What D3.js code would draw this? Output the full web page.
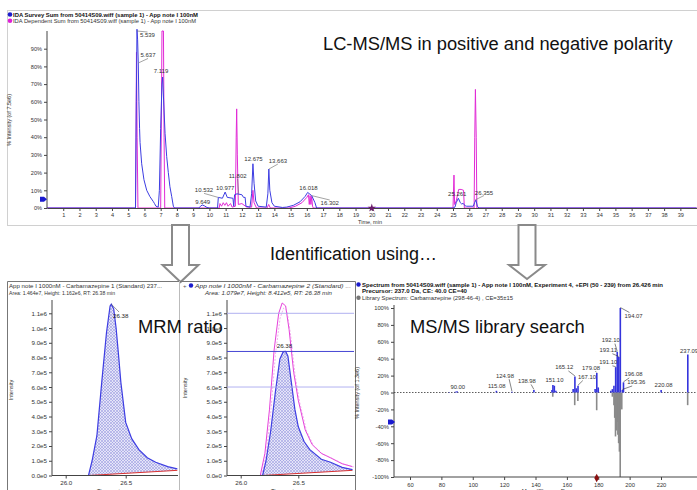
<!DOCTYPE html>
<html>
<head>
<meta charset="utf-8">
<script src="https://cdn.jsdelivr.net/npm/d3@7"></script>
<style>
body { margin:0; background:#fff; }
svg { display:block; font-family:"Liberation Sans", Arial, sans-serif; }
</style>
</head>
<body>
<svg width="697" height="490"></svg>
<script>
// ---------- data ----------
// top chromatogram, [time (min), % intensity]
var surveySum = [[0,0],[5.45,0],[5.50,60],[5.54,101],[5.58,95],[5.62,82],[5.66,60],[5.70,45],[5.73,37],[5.83,25],[5.97,16],[6.14,10],
  [6.34,6.4],[6.55,3.6],[6.62,2.5],[6.71,1],[6.85,0.5],[6.92,10],[7.00,45],[7.08,70],[7.12,74],[7.18,61],[7.27,42],[7.37,29],
  [7.47,20],[7.57,12],[7.68,6.4],[7.78,1],[7.85,0],[9.35,0],[9.45,1],[9.56,1.7],[9.70,1.2],[9.85,0.3],[10.0,0],[10.50,0],
  [10.55,6],[10.8,5.5],[10.97,9],[11.1,6],[11.45,5.5],[11.5,1],[11.55,7.5],[11.7,8],[12.0,7.5],[12.1,6],[12.2,6],[12.25,1],
  [12.5,0.5],[12.6,8],[12.68,25],[12.75,14],[12.85,4],[13.0,1],[13.5,0.5],[13.6,8],[13.66,22],[13.72,10],[13.85,3],[14.0,1],
  [14.5,0.3],[14.76,0.5],[15.17,1.5],[15.58,3.5],[15.89,6.5],[16.05,8.8],[16.3,7],[16.5,3],[16.6,0],[25.0,0],[25.12,0.5],
  [25.2,3],[25.33,5.5],[25.45,3],[25.53,2.3],[25.63,2.6],[25.75,1.2],[25.84,1],[26.25,1],[26.33,3],[26.41,4.5],[26.5,1],
  [26.6,0],[40,0]];
var dependentSum = [[0,0],[5.45,0],[5.48,40],[5.51,88],[5.55,40],[5.6,0],[7.0,0],[7.05,60],[7.08,100],[7.17,100],[7.21,40],
  [7.25,0],[10.6,0],[10.65,2.5],[10.75,1],[10.85,3],[10.95,1.5],[11.05,3],[11.15,1],[11.3,2.5],[11.4,0.5],[11.6,1],[11.65,40],
  [11.68,56],[11.72,30],[11.78,2],[12.0,2.5],[12.3,0.5],[12.6,0.5],[12.68,10],[12.75,3],[12.9,0],[13.55,0],[13.65,2],[13.75,0],
  [14.9,0],[15.3,1],[15.7,3],[16.0,6],[16.1,7.5],[16.15,2],[16.2,7],[16.25,2],[16.3,6.5],[16.35,1],[16.4,0],[25.0,0],
  [25.06,18.6],[25.1,2],[25.2,4],[25.35,10.5],[25.5,10.5],[25.65,10],[25.7,0],[26.3,0],[26.34,40],[26.38,67],[26.43,40],
  [26.47,0],[40,0]];
var topPeakTimes   = [5.539, 5.637, 7.119, 9.649, 10.532, 10.977, 11.802, 12.675, 13.663, 16.018, 16.302, 25.261, 26.355];
var topPeakHeights = [100, 82, 74, 1.7, 6, 9, 8, 25, 22, 8.8, 7, 5.5, 4.5];
var topXTicks = d3.range(1, 40);
var topYTicks = [0, 10, 20, 30, 40, 50, 60, 70, 80, 90];

// MRM peaks, [time (min), intensity]
var mrm1 = [[25.88,0],[26.19,0],[26.22,1.0e5],[26.26,2.7e5],[26.30,6.3e5],[26.34,9.7e5],[26.37,11.5e5],[26.38,11.62e5],
  [26.40,11.3e5],[26.42,10.0e5],[26.44,8.2e5],[26.46,6.3e5],[26.50,3.6e5],[26.55,2.5e5],[26.61,1.75e5],[26.68,1.2e5],
  [26.75,0.9e5],[26.85,0.6e5],[26.93,0.45e5]];
var mrm2 = [[25.88,0],[26.19,0],[26.22,1.0e5],[26.26,3.0e5],[26.30,5.6e5],[26.34,7.9e5],[26.37,8.4e5],[26.39,8.41e5],
  [26.41,8.1e5],[26.44,6.3e5],[26.47,4.5e5],[26.50,3.3e5],[26.55,2.3e5],[26.60,1.75e5],[26.70,1.1e5],[26.78,0.9e5],
  [26.88,0.55e5],[26.97,0.4e5]];
var mrm2Overlay = [[26.17,0],[26.21,1.5e5],[26.25,4.5e5],[26.29,8.5e5],[26.33,11.0e5],[26.36,11.7e5],[26.39,11.5e5],
  [26.42,9.9e5],[26.46,7.0e5],[26.50,5.1e5],[26.56,3.1e5],[26.62,2.1e5],[26.70,1.5e5],[26.78,1.2e5],[26.88,0.8e5],[26.97,0.6e5]];
var mrm1Baseline = [[26.19,0],[26.93,0.35e5]];
var mrm2Baseline = [[26.19,0],[26.97,0.35e5]];
var mrm2RatioLines = [1.1e6, 8.412e5, 6.0e5];
var mrmYTicks = d3.range(0, 1.15e6, 1e5);
var mrmXTicks = [26.0, 26.5];

// MS/MS spectrum, [m/z, %]
var spectrum = [[85,0.5],[89,1],[90.0,1.5],[115.08,2],[124.98,1],[138.98,3],[150.5,3],[151.10,9],[152,8],[153,2],[164,4],
  [165.12,19],[166,5],[167.10,8],[178,4],[179.08,23],[180,6],[188,2],[189,4],[190,8],[191.10,30],[192.10,48],[193.11,42],
  [194.07,100],[195.36,3],[196.08,12],[220.08,3],[237.09,45]];
var library = [[151,-5],[165,-15],[167,-10],[179,-21],[189,-5],[190,-15],[190.5,-30],[191,-52],[191.5,-45],[192,-35],
  [192.5,-50],[193,-60],[193.5,-70],[194,-100],[195,-20],[237,-15]];
var msLabels = ["90.00","115.08","124.98","138.98","151.10","165.12","167.10","179.08","191.10","192.10","193.11","194.07","196.08","195.36","220.08","237.09"];
var msXTicks = [60, 80, 100, 120, 140, 160, 180, 200, 220];
var msYTicks = [-100, -80, -60, -40, -20, 0, 20, 40, 60, 80, 100];

// label placement (pixel offsets from the peak top)
var topLabelOffsets = [[10.5,6],[9.5,-5.4],[-1.6,-4.5],[-1,-1],[-14,-5],[0,-2.5],[-1,-16],[0.7,-2.3],[9,-6],[1.4,-2],[18,9.4],[0,-2],[9,-5.5]];
var msLabelOffsets = [[0.7,-2],[0.3,-3],[-7,-14],[-7,-7],[1.5,-2.4],[-10.7,-7],[9,-6.7],[-5.7,-3.5],[-7.4,-2.8],[-6.5,-9.8],[-10.6,-4.8],[13.3,9.5],[10,-6],[14,-5.5],[2.5,-2.7],[1.3,-1.8]];

var BLUE = "#3d3de2", MAGENTA = "#e22ad6", TXT = "#333";

var svg = d3.select("svg");
var defs = svg.append("defs");

var hatch = defs.append("pattern").attr("id", "hatch").attr("width", 3).attr("height", 3)
  .attr("patternUnits", "userSpaceOnUse");
hatch.append("rect").attr("width", 3).attr("height", 3).attr("fill", "#e4e4f8");
hatch.append("path").attr("d", "M0,0L3,3M3,0L0,3").attr("stroke", "#8f8fdc").attr("stroke-width", 0.5);

function clip(id, x, y, w, h)
{
  defs.append("clipPath").attr("id", id).append("rect")
    .attr("x", x).attr("y", y).attr("width", w).attr("height", h);
}

function styleAxis(g, size)
{
  g.selectAll("text").style("font-size", size + "px").attr("fill", TXT);
  g.selectAll("line").attr("stroke", "#444");
  g.select(".domain").attr("stroke", "#444");
}

function text(x, y, s, size, opts)
{
  opts = opts || {};
  var t = svg.append("text").attr("x", x).attr("y", y).text(s)
    .style("font-size", size + "px").attr("fill", opts.fill || TXT);
  if (opts.anchor) t.attr("text-anchor", opts.anchor);
  if (opts.bold) t.style("font-weight", "bold");
  if (opts.italic) t.style("font-style", "italic");
  if (opts.len) t.attr("textLength", opts.len).attr("lengthAdjust", "spacingAndGlyphs");
  if (opts.rotate) t.attr("transform", "rotate(-90," + x + "," + y + ")");
  return t;
}

// ================= top panel =================
svg.append("rect").attr("x", 7.5).attr("y", 10.5).attr("width", 700).attr("height", 215)
  .attr("fill", "none").attr("stroke", "#d0d0d0");

var xTop = d3.scaleLinear().domain([0, 40]).range([47, 696.6]);
var yTop = d3.scaleLinear().domain([0, 100]).range([208, 31]);
clip("clipTop", 47, 20, 650, 189);

var topLine = d3.line().x(function(d) { return xTop(d[0]); }).y(function(d) { return yTop(d[1]); });

svg.append("path").datum(dependentSum).attr("d", topLine).attr("fill", "none")
  .attr("stroke", MAGENTA).attr("stroke-width", 1).attr("clip-path", "url(#clipTop)");
svg.append("path").datum(surveySum).attr("d", topLine).attr("fill", "none")
  .attr("stroke", BLUE).attr("stroke-width", 1).attr("clip-path", "url(#clipTop)");

var gx = svg.append("g").attr("transform", "translate(0,208)")
  .call(d3.axisBottom(xTop).tickValues(topXTicks).tickSize(3).tickSizeOuter(0).tickPadding(2).tickFormat(d3.format("d")));
styleAxis(gx, 5.6);
var gy = svg.append("g").attr("transform", "translate(47,0)")
  .call(d3.axisLeft(yTop).tickValues(topYTicks).tickSize(3).tickSizeOuter(0).tickPadding(2).tickFormat(function(d) { return d + "%"; }));
styleAxis(gy, 5.6);
gy.select(".domain").attr("d", "M0," + yTop(0) + "V" + yTop(100));

// peak labels
topPeakTimes.forEach(function(t, i)
{
  var px = xTop(t), py = yTop(topPeakHeights[i]);
  var lx = px + topLabelOffsets[i][0], ly = py + topLabelOffsets[i][1];
  if (Math.abs(topLabelOffsets[i][0]) > 6 || topLabelOffsets[i][1] < -5)
    svg.append("line").attr("x1", px).attr("y1", py).attr("x2", lx).attr("y2", ly + (ly < py ? 1 : -5))
      .attr("stroke", "#666").attr("stroke-width", 0.6);
  text(lx, ly, d3.format(".3f")(t), 6, {anchor: "middle"});
});

text(11, 120, "% Intensity (of 7.5e6)", 5.5, {anchor: "middle", rotate: true});
text(370, 223.5, "Time, min", 5.5, {anchor: "middle"});

// legend
svg.append("circle").attr("cx", 10).attr("cy", 14.5).attr("r", 2.3).attr("fill", "#1c1ccc");
text(13, 16.6, "IDA Survey Sum from 50414S09.wiff (sample 1) - App note I 100nM", 5.5, {bold: true, len: 185, fill: "#111"});
svg.append("circle").attr("cx", 10).attr("cy", 20.8).attr("r", 2.3).attr("fill", "#e020d8");
text(13, 22.8, "IDA Dependent Sum from 50414S09.wiff (sample 1) - App note I 100nM", 5.5, {len: 183, fill: "#333"});

// markers on the axes
svg.append("path").attr("d", d3.symbol(d3.symbolStar, 22)()).attr("fill", "#6a1a6a")
  .attr("transform", "translate(" + xTop(20) + ",208)");
svg.append("path").attr("d", "M-3,-2.5L1,-2.5L4,0L1,2.5L-3,2.5Z").attr("fill", "#1a1ad0")
  .attr("transform", "translate(43," + yTop(5) + ")");

text(323, 50, "LC-MS/MS in positive and negative polarity", 18.3, {fill: "#111"});

// ================= arrows + caption =================
function arrow(cx, tip)
{
  var p = d3.path();
  p.moveTo(cx - 8.5, 225); p.lineTo(cx + 8.5, 225); p.lineTo(cx + 8.5, 265); p.lineTo(cx + 18, 265);
  p.lineTo(cx, tip); p.lineTo(cx - 18, 265); p.lineTo(cx - 8.5, 265); p.closePath();
  svg.append("path").attr("d", p.toString()).attr("fill", "#fff").attr("stroke", "#8a8a8a").attr("stroke-width", 2);
}
arrow(180.5, 282);
arrow(527, 279);
text(270, 260, "Identification using\u2026", 18, {fill: "#111"});

// ================= MRM panels =================
var yMrm = d3.scaleLinear().domain([0, 1.1e6]).range([475.5, 313.3]);
function mrmFormat(v) { return v == 0 ? "0.0e0" : d3.format(".1e")(v).replace("+", ""); }

function mrmPanel(id, left, right, axisX, x26, x265, peak, base, overlay)
{
  var x = d3.scaleLinear().domain([26.0, 26.5]).range([x26, x265]);
  clip(id, axisX, 296, right - axisX, 180);
  var g = svg.append("g").attr("clip-path", "url(#" + id + ")");

  var baseAt = d3.scaleLinear().domain([base[0][0], base[1][0]]).range([base[0][1], base[1][1]]);
  var inside = peak.filter(function(d) { return d[0] >= base[0][0]; });
  g.append("path").datum(inside)
    .attr("d", d3.area().x(function(d) { return x(d[0]); }).y0(function(d) { return yMrm(baseAt(d[0])); }).y1(function(d) { return yMrm(d[1]); }))
    .attr("fill", "url(#hatch)");

  var line = d3.line().x(function(d) { return x(d[0]); }).y(function(d) { return yMrm(d[1]); });
  if (overlay)
  {
    g.append("path").datum(overlay).attr("d", line).attr("fill", "none").attr("stroke", MAGENTA).attr("stroke-width", 0.9);
    g.append("path").datum(overlay.map(function(d) { return [d[0] + 0.012, d[1] * 0.97]; })).attr("d", line)
      .attr("fill", "none").attr("stroke", "#e87ae0").attr("stroke-width", 0.6).attr("stroke-dasharray", "2,1.5");
  }
  g.append("path").datum(base).attr("d", line).attr("fill", "none").attr("stroke", "#d83030").attr("stroke-width", 1);
  g.append("path").datum(peak).attr("d", line).attr("fill", "none").attr("stroke", BLUE).attr("stroke-width", 1.2);

  var ax = svg.append("g").attr("transform", "translate(0,475.5)")
    .call(d3.axisBottom(x).tickValues(mrmXTicks).tickSize(3).tickSizeOuter(0).tickPadding(2).tickFormat(d3.format(".1f")));
  styleAxis(ax, 6.2);
  ax.select(".domain").attr("d", "M" + axisX + ",0H" + right);
  var ay = svg.append("g").attr("transform", "translate(" + axisX + ",0)")
    .call(d3.axisLeft(yMrm).tickValues(mrmYTicks).tickSize(3).tickSizeOuter(0).tickPadding(2).tickFormat(mrmFormat));
  styleAxis(ay, 6.2);
  ay.select(".domain").attr("d", "M0,475.5V300");
  return {x: x, g: g};
}

// panel frames
svg.append("path").attr("d", "M7.5,490V281.5H355.5V490").attr("fill", "none").attr("stroke", "#777");
svg.append("line").attr("x1", 179.5).attr("x2", 179.5).attr("y1", 281).attr("y2", 490).attr("stroke", "#bbb");

var p1 = mrmPanel("clipM1", 8, 178, 52, 65.7, 125.7, mrm1, mrm1Baseline, null);
text(9, 288, "App note I 1000nM - Carbamazepine 1 (Standard) 237...", 5.6, {len: 153});
text(9, 295, "Area: 1.464e7, Height: 1.162e6, RT: 26.38 min", 5.6, {len: 106});
text(12.5, 390, "Intensity", 5.6, {anchor: "middle", rotate: true});
svg.append("line").attr("x1", p1.x(26.38)).attr("y1", yMrm(1.162e6)).attr("x2", 119).attr("y2", 312)
  .attr("stroke", "#555").attr("stroke-width", 0.6);
text(113, 318, "26.38", 6.2, {fill: "#222"});
text(110, 493, "Time, min", 6, {anchor: "middle"});

var p2 = mrmPanel("clipM2", 180, 355, 227, 240.7, 298.3, mrm2, mrm2Baseline, mrm2Overlay);
mrm2RatioLines.forEach(function(v, i)
{
  svg.append("line").attr("x1", 227).attr("x2", 354).attr("y1", yMrm(v)).attr("y2", yMrm(v))
    .attr("stroke", i == 1 ? "#4646d4" : "#a8a8ee").attr("stroke-width", i == 1 ? 1 : 0.9);
});
text(183, 287.5, "+", 6, {fill: "#555"});
svg.append("circle").attr("cx", 191).attr("cy", 285.5).attr("r", 2.2).attr("fill", "#1c1ccc");
text(195, 287.5, "App note I 1000nM - Carbamazepine 2 (Standard) ...", 5.6, {italic: true, len: 156});
text(205, 295, "Area: 1.079e7, Height: 8.412e5, RT: 26.38 min", 5.6, {italic: true, len: 127});
text(186.5, 388, "Intensity", 5.6, {anchor: "middle", rotate: true});
text(p2.x(26.38), yMrm(8.412e5) - 3.5, "26.38", 6.2, {anchor: "middle", fill: "#222"});
text(284, 493, "Time, min", 6, {anchor: "middle"});

text(138, 333.3, "MRM ratio", 18.4, {fill: "#111"});

// ================= MS/MS panel =================
var xMs = d3.scaleLinear().domain([60, 220]).range([410, 661]);
var yMs = d3.scaleLinear().domain([-100, 100]).range([477, 308]);
clip("clipMs", 394, 300, 303, 178);
var gm = svg.append("g").attr("clip-path", "url(#clipMs)");

gm.append("line").attr("x1", 394).attr("x2", 697).attr("y1", yMs(0)).attr("y2", yMs(0))
  .attr("stroke", "#333").attr("stroke-width", 0.8).attr("stroke-dasharray", "1.5,1.5");
gm.selectAll(".lib").data(library).enter().append("line").attr("class", "lib")
  .attr("x1", function(d) { return xMs(d[0]); }).attr("x2", function(d) { return xMs(d[0]); })
  .attr("y1", yMs(0)).attr("y2", function(d) { return yMs(d[1]); })
  .attr("stroke", "#8a8a8a").attr("stroke-width", 1.6);
gm.selectAll(".spec").data(spectrum).enter().append("line").attr("class", "spec")
  .attr("x1", function(d) { return xMs(d[0]); }).attr("x2", function(d) { return xMs(d[0]); })
  .attr("y1", yMs(0)).attr("y2", function(d) { return yMs(d[1]); })
  .attr("stroke", "#3434dc").attr("stroke-width", 1.6);

msLabels.forEach(function(s, i)
{
  var mz = +s;
  var peak = spectrum.find(function(d) { return Math.abs(d[0] - mz) < 0.01; });
  var px = xMs(mz), py = yMs(peak ? peak[1] : 1);
  var lx = px + msLabelOffsets[i][0], ly = py + msLabelOffsets[i][1];
  if (Math.abs(msLabelOffsets[i][0]) > 5 || msLabelOffsets[i][1] < -5)
    svg.append("line").attr("x1", px).attr("y1", py - 0.5).attr("x2", lx + (lx > px ? -4.2 : 4.2)).attr("y2", ly + (ly < py ? 1.5 : -5))
      .attr("stroke", "#333").attr("stroke-width", 0.6);
  text(lx, ly, s, 5.9, {anchor: "middle"});
});

var mx = svg.append("g").attr("transform", "translate(0,477)")
  .call(d3.axisBottom(xMs).tickValues(msXTicks).tickSize(3).tickSizeOuter(0).tickPadding(3));
styleAxis(mx, 5.8);
mx.select(".domain").attr("d", "M394,0H697");
var my = svg.append("g").attr("transform", "translate(394,0)")
  .call(d3.axisLeft(yMs).tickValues(msYTicks).tickSize(3).tickSizeOuter(0).tickPadding(2).tickFormat(function(d) { return d + "%"; }));
styleAxis(my, 5.8);
my.select(".domain").attr("d", "M0,477V305");

svg.append("path").attr("d", "M-3,-2.5L1,-2.5L4,0L1,2.5L-3,2.5Z").attr("fill", "#1a1ad0")
  .attr("transform", "translate(391," + yMs(-35) + ")");
svg.append("path").attr("d", d3.symbol(d3.symbolDiamond, 20)()).attr("fill", "#8a1010")
  .attr("transform", "translate(" + xMs(179) + ",478)");

svg.append("circle").attr("cx", 358.5).attr("cy", 284.5).attr("r", 2.2).attr("fill", "#1c1ccc");
text(362, 286.6, "Spectrum from 50414S09.wiff (sample 1) - App note I 100nM, Experiment 4, +EPI (50 - 239) from 26.426 min", 5.5, {bold: true, len: 301, fill: "#111"});
text(362, 293.2, "Precursor: 237.0 Da, CE: 40.0 CE=40", 5.5, {bold: true, len: 105, fill: "#111"});
svg.append("circle").attr("cx", 358.5).attr("cy", 297.8).attr("r", 2.2).attr("fill", "#777");
text(362, 299.8, "Library Spectrum: Carbamazepine (298-46-4) , CE=35\u00b115", 5.5, {len: 151});
text(358.5, 393, "% Intensity (of 1.3e6)", 5.5, {anchor: "middle", rotate: true});
text(545, 493, "Mass/Charge, Da", 6, {anchor: "middle"});

text(410, 333.3, "MS/MS library search", 18.3, {fill: "#111"});
</script>
</body>
</html>
